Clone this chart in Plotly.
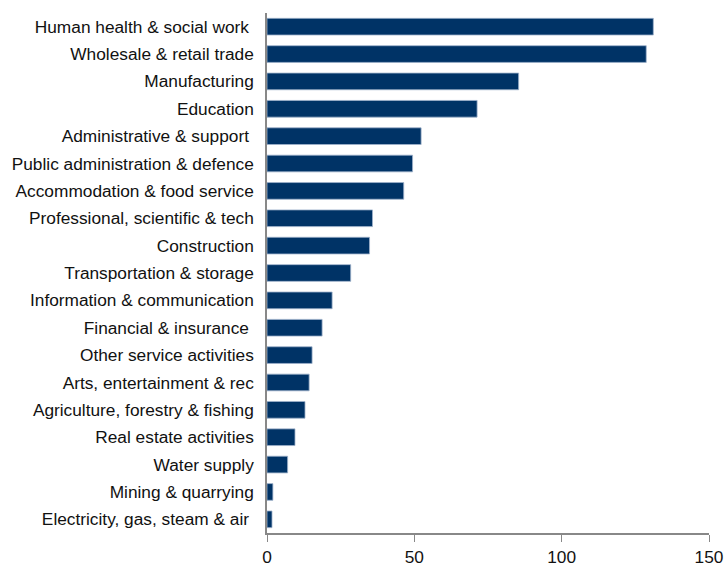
import plotly.graph_objects as go

categories = [
    "Human health & social work\u00a0",
    "Wholesale & retail trade",
    "Manufacturing",
    "Education",
    "Administrative & support\u00a0",
    "Public administration & defence",
    "Accommodation & food service",
    "Professional, scientific & tech",
    "Construction",
    "Transportation & storage",
    "Information & communication",
    "Financial & insurance\u00a0",
    "Other service activities",
    "Arts, entertainment & rec",
    "Agriculture, forestry & fishing",
    "Real estate activities",
    "Water supply",
    "Mining & quarrying",
    "Electricity, gas, steam & air\u00a0",
]
values = [131.1, 128.7, 85.4, 71.3, 52.3, 49.4, 46.4, 35.8, 34.8, 28.4,
          22.1, 18.7, 15.3, 14.3, 12.9, 9.5, 7.0, 2.0, 1.7]
x_ticks = [0, 50, 100, 150]

fig = go.Figure(go.Bar(
    x=values,
    y=categories,
    orientation="h",
    marker=dict(color="#003366", line=dict(color="#9fb3cc", width=0.8)),
))

fig.update_layout(
    width=725, height=570,
    margin=dict(l=267, r=16, t=13, b=37, autoexpand=False),
    paper_bgcolor="white", plot_bgcolor="white",
    bargap=0.39,
    showlegend=False,
    font=dict(family="Liberation Sans, Arial, sans-serif", size=17.3, color="#111111"),
)
fig.update_xaxes(
    range=[0, 150], tickvals=x_ticks, ticks="outside", ticklen=7,
    tickcolor="#888888", showline=True, linecolor="#888888", linewidth=1.5,
    showgrid=False, zeroline=False, tickfont=dict(size=17.3), automargin=False,
)
fig.update_yaxes(
    autorange="reversed", showline=True, linecolor="#888888", linewidth=1.5,
    showgrid=False, ticks="", ticklabelstandoff=8, tickfont=dict(size=17.3),
    automargin=False,
)

fig.write_html("out.html")
